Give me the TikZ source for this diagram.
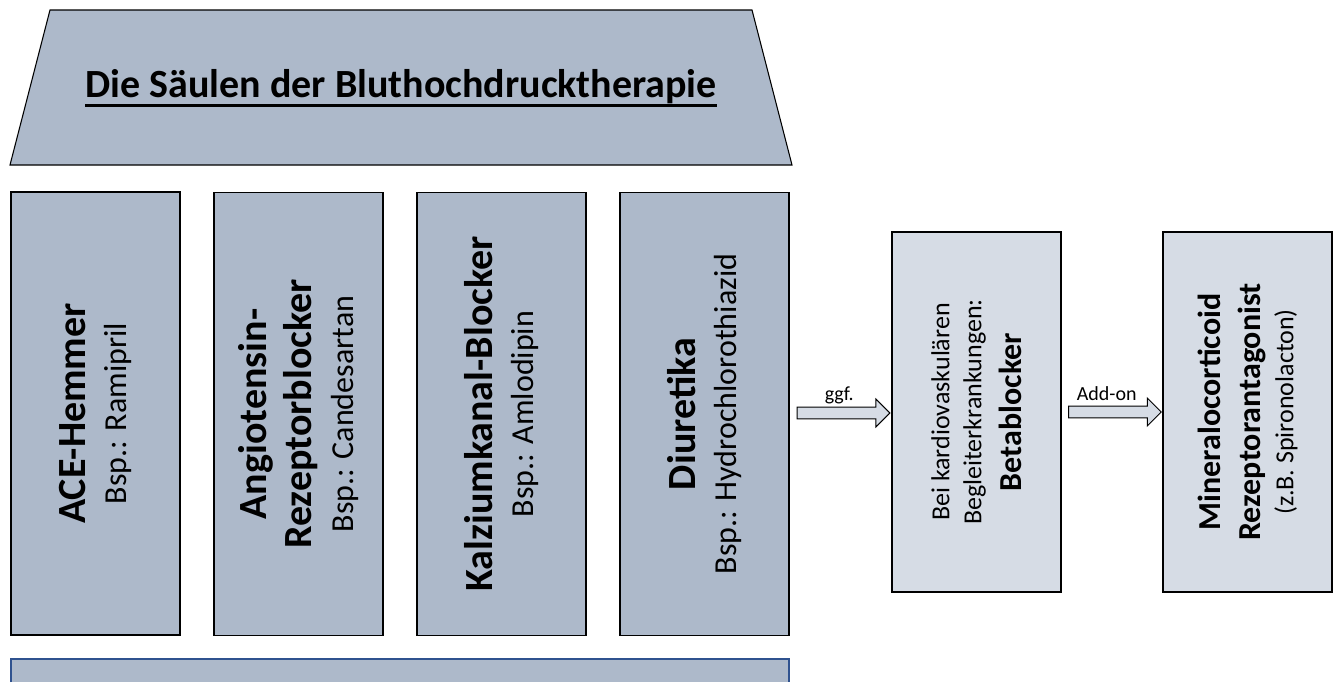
\documentclass[tikz,border=0pt]{standalone}
\usepackage{fontspec}
\setmainfont{Carlito}
\usepackage{xcolor}
\definecolor{PillarFill}{RGB}{173,185,202}
\definecolor{BoxFill}{RGB}{214,220,229}
\definecolor{BarBlue}{RGB}{47,82,143}
\usepackage{tikz}
\usetikzlibrary{
  shapes.geometric, shapes.arrows,
  positioning, calc
}
\newcommand{\headfont}{\fontsize{30}{35}\selectfont\bfseries}
\newcommand{\sidehead}{\fontsize{24}{30}\selectfont\bfseries}
\newcommand{\thickul}[1]{\leavevmode\vtop{\hbox{#1}\kern0.8pt\hrule height 2pt}}
\tikzset{
  % Roof of the temple
  roof/.style={
    draw=black, line width=0.8pt, fill=PillarFill
  },
  title/.style={inner sep=0pt, font=\headfont},
  % Pillar, text runs bottom to top
  pillar/.style={
    rectangle, draw=black, line width=1.4pt, fill=PillarFill,
    rotate=90, align=center,
    minimum width=332.25pt, minimum height=126.75pt,
    inner sep=0pt, font=\fontsize{24}{31}\selectfont
  },
  % Boxes on the right
  sidebox/.style={
    rectangle, draw=black, line width=1.2pt, fill=BoxFill,
    rotate=90, align=center,
    minimum width=270pt, minimum height=126.75pt,
    inner sep=0pt, font=\fontsize{19.5}{24}\selectfont
  },
  % Block arrows
  blockarr/.style={
    single arrow, draw=black, line width=0.7pt, fill=BoxFill,
    single arrow head extend=6pt,
    inner xsep=0pt, inner ysep=4.1pt,
    minimum height=69.5pt
  },
  % Arrow label
  alabel/.style={font=\fontsize{15}{18}\selectfont, inner sep=0pt},
}

\begin{document}
\begin{tikzpicture}[x=0.75pt, y=0.75pt]
  \useasboundingbox (0,0) rectangle (1337,-682);

  % roof
  \draw[roof] (10,-165) -- (50,-10) -- (752,-10) -- (792,-165) -- cycle;
  \node[title] (titel) at (401,-88) {\thickul{Die Säulen der Bluthochdrucktherapie}};

  \node[pillar] (ace) at (95.5,-413.5) {{\headfont ACE-Hemmer}\\Bsp.: Ramipril};
  \node[pillar] (arb) at (298.5,-414) {{\headfont Angiotensin-}\\[3pt]{\headfont Rezeptorblocker}\\Bsp.: Candesartan};
  \node[pillar] (ccb) at (501.5,-414) {{\headfont Kalziumkanal-Blocker}\\Bsp.: Amlodipin};
  \node[pillar] (diu) at (704.5,-414) {{\headfont Diuretika}\\Bsp.: Hydrochlorothiazid};

  % base of the temple
  \fill[PillarFill] (11,-659) rectangle (789,-682);
  \draw[BarBlue, line width=1.4pt] (11,-682) -- (11,-659) -- (789,-659) -- (789,-682);

  \node[sidebox] (beta) at (976.5,-412) {Bei kardiovaskulären\\Begleiterkrankungen:\\[6pt]{\sidehead Betablocker}};
  \node[sidebox] (mra) at (1247.5,-412) {{\sidehead Mineralocorticoid}\\[6pt]{\sidehead Rezeptorantagonist}\\[1pt](z.B. Spironolacton)};

  \node[blockarr] (ggf) at ($(diu.south)!0.5!(beta.north)$) {};
  \node[blockarr] (addon) at ($(beta.south)!0.5!(mra.north)$) {};
  \node[alabel] (ggflbl) at ([xshift=-1pt, yshift=13.5pt]ggf.center) {ggf.};
  \node[alabel] (addonlbl) at ([xshift=-4pt, yshift=13.5pt]addon.center) {Add-on};
\end{tikzpicture}
\end{document}
